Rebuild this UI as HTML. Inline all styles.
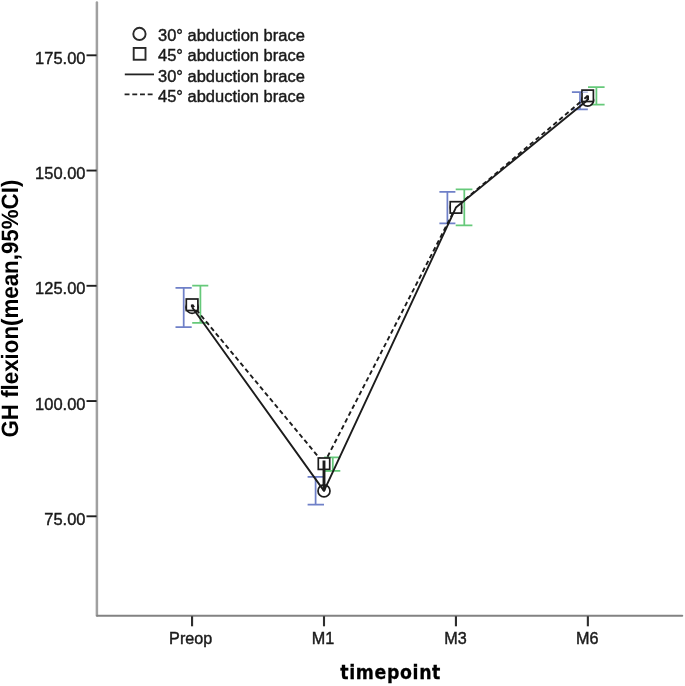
<!DOCTYPE html>
<html lang="en">
<head>
<meta charset="utf-8">
<title>GH flexion by timepoint</title>
<style>
html,body{margin:0;padding:0;background:#fff;}
body{width:685px;height:686px;overflow:hidden;}
svg{display:block;}
text{font-family:"Liberation Sans",Arial,sans-serif;fill:#1a1a1a;}
.reg text{stroke:#1a1a1a;stroke-width:0.42px;}
.ytitle{font-feature-settings:"dlig" 1;text-rendering:geometricPrecision;font-size:22.32px;font-weight:bold;fill:#000;}
.xtitle{font-family:"DejaVu Sans","Liberation Sans",sans-serif;font-size:19.3px;font-weight:bold;fill:#000;}
</style>
</head>
<body>
<svg width="685" height="686" viewBox="0 0 685 686">
<rect x="0" y="0" width="685" height="686" fill="#ffffff"/>

<!-- axes -->
<g id="axes" fill="none" stroke-linecap="round">
<line x1="96.9" y1="2.6" x2="96.9" y2="615.6" stroke="#a0a0a0" stroke-width="2.5"/>
<line x1="97.2" y1="615.8" x2="682.2" y2="615.8" stroke="#828282" stroke-width="2.1"/>
</g>

<!-- y ticks -->
<g id="yticks" stroke="#1e1e1e" stroke-width="1.9">
<line x1="86.5" y1="55.3" x2="96.6" y2="55.3"/>
<line x1="86.5" y1="170.55" x2="96.6" y2="170.55"/>
<line x1="86.5" y1="285.8" x2="96.6" y2="285.8"/>
<line x1="86.5" y1="401.05" x2="96.6" y2="401.05"/>
<line x1="86.5" y1="516.3" x2="96.6" y2="516.3"/>
</g>
<g id="ylabels" class="reg">
<text transform="translate(85.5,63.8) scale(1,1.045)" font-size="16.5" text-anchor="end">175.00</text>
<text transform="translate(85.5,179.05) scale(1,1.045)" font-size="16.5" text-anchor="end">150.00</text>
<text transform="translate(85.5,294.3) scale(1,1.045)" font-size="16.5" text-anchor="end">125.00</text>
<text transform="translate(85.5,409.55) scale(1,1.045)" font-size="16.5" text-anchor="end">100.00</text>
<text transform="translate(85.5,524.8) scale(1,1.045)" font-size="16.5" text-anchor="end">75.00</text>
</g>

<!-- x ticks -->
<g id="xticks" stroke="#2e2e2e" stroke-width="2.1">
<line x1="192.07" y1="616.2" x2="192.07" y2="626.3"/>
<line x1="324.0" y1="616.2" x2="324.0" y2="626.3"/>
<line x1="455.93" y1="616.2" x2="455.93" y2="626.3"/>
<line x1="587.86" y1="616.2" x2="587.86" y2="626.3"/>
</g>
<g id="xlabels" class="reg">
<text transform="translate(190.7,643.8) scale(1,1.045)" font-size="16.2" text-anchor="middle">Preop</text>
<text transform="translate(323.0,643.8) scale(1,1.045)" font-size="16.2" text-anchor="middle">M1</text>
<text transform="translate(455.6,643.8) scale(1,1.045)" font-size="16.2" text-anchor="middle">M3</text>
<text transform="translate(587.3,643.8) scale(1,1.045)" font-size="16.2" text-anchor="middle">M6</text>
</g>

<!-- axis titles -->
<text class="xtitle" transform="translate(390.7,678.9) scale(0.9,1.04)" text-anchor="middle" letter-spacing="0.7" stroke="#000" stroke-width="0.3">timepoint</text>
<text class="ytitle" transform="translate(17.9,308.6) rotate(-90) scale(1,1.06)" text-anchor="middle">GH flexion(mean,95%CI)</text>

<!-- legend -->
<g id="legend">
<circle cx="139.45" cy="33.9" r="6.15" fill="#fff" stroke="#2a2a2a" stroke-width="1.9"/>
<rect x="133.7" y="47.95" width="11.8" height="11.8" fill="#fff" stroke="#2a2a2a" stroke-width="1.9"/>
<line x1="124.8" y1="74.4" x2="154" y2="74.4" stroke="#222" stroke-width="1.8"/>
<line x1="124.6" y1="94.4" x2="153" y2="94.4" stroke="#222" stroke-width="1.8" stroke-dasharray="4.9 2.8"/>
<g class="reg">
<text transform="translate(158.0,40.5) scale(1,1.045)" font-size="16.5">30° abduction brace</text>
<text transform="translate(158.0,61.1) scale(1,1.045)" font-size="16.5">45° abduction brace</text>
<text transform="translate(158.0,81.7) scale(1,1.045)" font-size="16.5">30° abduction brace</text>
<text transform="translate(158.0,102.2) scale(1,1.045)" font-size="16.5">45° abduction brace</text>
</g>
</g>

<!-- error bars: 30° group (blue) -->
<g id="err30" stroke="#6f80c8" stroke-width="1.75" fill="none">
<path d="M183.7 287.9V327 M175.5 287.9H191.7 M175.5 327H191.7"/>
<path d="M315.6 476.8V504.7 M307.6 476.8H324 M307.6 504.7H324"/>
<path d="M447.4 191.8V223.3 M439.4 191.8H455.4 M439.4 223.3H455.4"/>
<path d="M580 92.2V109.4 M571.9 92.2H587.8 M571.9 109.4H587.8"/>
</g>
<!-- error bars: 45° group (green) -->
<g id="err45" stroke="#66c97a" stroke-width="1.75" fill="none">
<path d="M200.4 285.6V322.9 M192.2 285.6H208.3 M192.2 322.9H208.3"/>
<path d="M332.8 457.3V470.9 M324.1 457.3H340.3 M324.1 470.9H340.3"/>
<path d="M464.3 189.4V225.3 M455.7 189.4H472.4 M455.7 225.3H472.4"/>
<path d="M596.4 87.1V104.7 M588 87.1H604.6 M588 104.7H604.6"/>
</g>

<!-- markers -->
<g id="circles" fill="#fff" stroke="#1c1c1c" stroke-width="1.7">
<circle cx="192.1" cy="307.2" r="6.1"/>
<circle cx="324.0" cy="490.9" r="6.0"/>
<circle cx="455.9" cy="207.4" r="5.6"/>
<circle cx="587.6" cy="100.1" r="6.0"/>
</g>
<g id="dashed" fill="none" stroke="#1c1c1c" stroke-width="1.9" stroke-linejoin="round">
<polyline points="192.2,304.8 324.0,463.6 455.9,207.3 587.8,95.8" stroke-dasharray="4.6 3.1" stroke-dashoffset="1.5"/>
</g>
<g id="squares" fill="#fff" stroke="#1c1c1c" stroke-width="1.7">
<rect x="186.3" y="299.0" width="11.6" height="11.5"/>
<rect x="318.3" y="458.0" width="11.4" height="11.4"/>
<rect x="450.2" y="201.7" width="11.4" height="11.4"/>
<rect x="582.0" y="90.1" width="11.4" height="11.4"/>
</g>
<!-- re-draw error bar caps that sit over the squares -->
<g id="capsover" fill="none" stroke-width="1.6">
<path d="M324.1 470.9H331" stroke="#66c97a" opacity="0.8"/>
<path d="M582 92.2H587.8" stroke="#6f80c8" opacity="0.5"/>
</g>

<!-- lines -->
<g id="lines" fill="none" stroke="#1c1c1c" stroke-width="1.9" stroke-linejoin="round">
<polyline points="192.1,307.2 324.0,490.9 455.9,207.6 587.7,99.9"/>
<path d="M324.0 460.5V490.6" stroke-width="2.9"/>
<path d="M192.2 304.4V307.2 M587.7 95.6V99.9" stroke-width="2.6"/>
<path d="M587.8 95.8L584.4 98.7 M192.2 304.8L194.2 307.2" stroke-width="1.9"/>
</g>
</svg>
</body>
</html>
